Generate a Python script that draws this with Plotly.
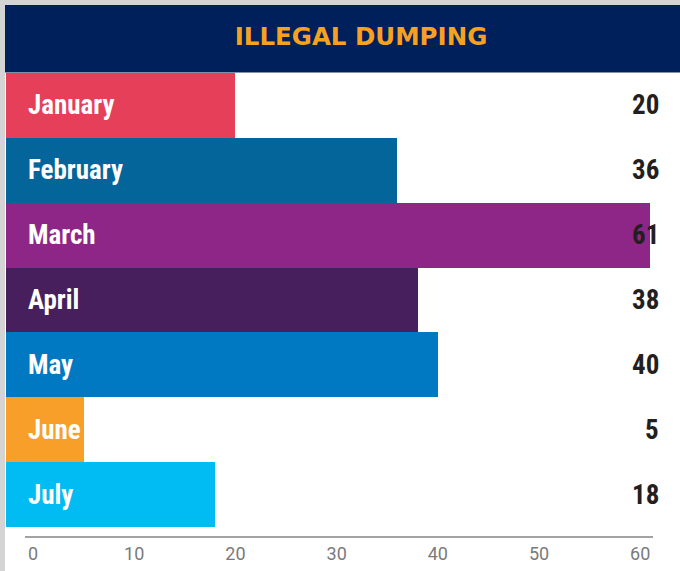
import plotly.graph_objects as go

months = ["January", "February", "March", "April", "May", "June", "July"]
counts = [20, 36, 61, 38, 40, 5, 18]
bar_colors = ["#e63f5a", "#04659a", "#8e2687", "#461f5c", "#0079c2", "#f89f2a", "#00bcf2"]
tick_values = [0, 10, 20, 30, 40, 50, 60]
tick_labels = ["0", "10", "20", "30", "40", "50", "60"]
title_text = "ILLEGAL DUMPING"

W, H = 680, 571
L, R, T, B = 6, 0, 73, 44
PW, PH = W - L - R, H - T - B

X_MIN, X_MAX = -2.67, 63.93

LABEL_FONT = "Roboto Condensed, Roboto, sans-serif"


def px_x(p):
    return (p - L) / PW


def px_y(p):
    return (H - B - p) / PH


fig = go.Figure()
fig.add_trace(go.Bar(
    y=months,
    x=[c - X_MIN for c in counts],
    base=X_MIN,
    orientation="h",
    marker=dict(color=bar_colors, line=dict(width=0)),
    hoverinfo="skip",
    showlegend=False,
))

annotations = []
for m, c in zip(months, counts):
    annotations.append(dict(
        x=px_x(26), xref="paper", y=m, yref="y",
        text=m, showarrow=False, xanchor="left", yanchor="middle",
        font=dict(family=LABEL_FONT, size=27, color="white", weight="bold"),
    ))
    annotations.append(dict(
        x=px_x(661), xref="paper", y=m, yref="y",
        text=str(c), showarrow=False, xanchor="right", yanchor="middle",
        font=dict(family=LABEL_FONT, size=27, color="#231f20", weight="bold"),
    ))

shapes = [
    # gray frame top and left
    dict(type="rect", xref="paper", yref="paper", x0=px_x(0), x1=1, y0=px_y(5), y1=px_y(0),
         fillcolor="#d4d4d4", line=dict(width=0), layer="below"),
    dict(type="rect", xref="paper", yref="paper", x0=px_x(0), x1=px_x(5), y0=px_y(H), y1=px_y(0),
         fillcolor="#d4d4d4", line=dict(width=0), layer="below"),
    # header band
    dict(type="rect", xref="paper", yref="paper", x0=px_x(5), x1=1, y0=px_y(72.5), y1=px_y(5),
         fillcolor="#00205b", line=dict(width=0), layer="below"),
    # axis baseline
    dict(type="line", xref="paper", yref="paper", x0=px_x(25), x1=px_x(653), y0=px_y(537), y1=px_y(537),
         line=dict(color="#a3a3a3", width=2)),
]

fig.update_layout(
    width=W, height=H,
    margin=dict(l=L, r=R, t=T, b=B, pad=0),
    paper_bgcolor="white",
    plot_bgcolor="white",
    bargap=0,
    title=dict(
        text=title_text, x=361 / W, xanchor="center", xref="container",
        y=1 - 36 / H, yanchor="middle", yref="container",
        font=dict(family="DejaVu Sans, sans-serif", size=24.5, color="#f7a121", weight="bold"),
    ),
    xaxis=dict(
        range=[X_MIN, X_MAX], tickvals=tick_values, ticktext=tick_labels,
        showgrid=False, zeroline=False, showline=False, ticks="",
        tickfont=dict(family="Roboto, sans-serif", size=18, color="#7a7a7a"),
        ticklabelstandoff=14, fixedrange=True,
    ),
    yaxis=dict(
        categoryorder="array", categoryarray=months,
        range=[6.5, -0.5], showticklabels=False, showgrid=False,
        zeroline=False, showline=False, ticks="", fixedrange=True,
    ),
    annotations=annotations,
    shapes=shapes,
)

fig.write_html(
    "out.html",
    config={"displayModeBar": False},
    post_script="document.body.style.margin='0';document.body.style.overflow='hidden';",
)
